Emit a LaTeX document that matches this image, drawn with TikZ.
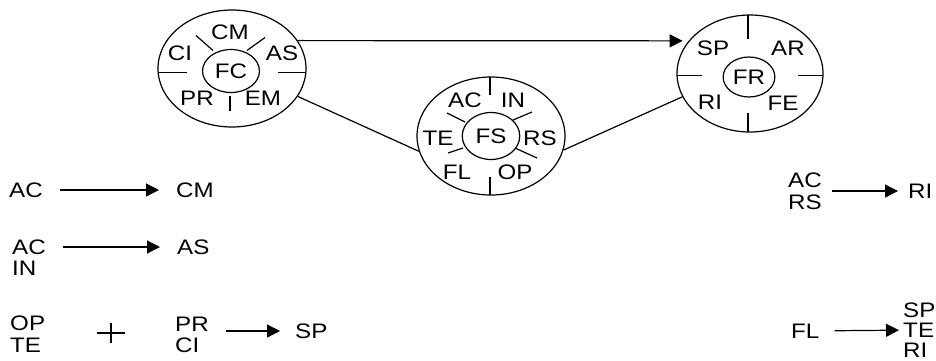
\documentclass[tikz,border=0pt]{standalone}
\usepackage{fontspec}
\setmainfont{Liberation Sans}
\usetikzlibrary{shapes.geometric}
\usetikzlibrary{arrows.meta}

\tikzset{
  word/.style = {font=\fontsize{21}{22}\selectfont, inner sep=0pt, xscale=1.15},
  ring/.style = {ellipse, draw, line width=1.2pt, inner sep=0pt},
  hub/.style  = {word, ellipse, draw, line width=1.2pt},
  link/.style = {line width=1.2pt},
  flow/.style = {link, -{Triangle[length=13pt, width=13pt]}, shorten <=17pt, shorten >=17pt}
}

\begin{document}
\begin{tikzpicture}[x=1pt, y=-1pt]
\useasboundingbox (0,0) rectangle (936,360);

% the three rings
\node[ring, minimum width=148pt, minimum height=117pt] (fc) at (232,68.5) {};
\node[ring, minimum width=148pt, minimum height=118pt] (fs) at (491,136) {};
\node[ring, minimum width=146pt, minimum height=117pt] (fr) at (750,73.5) {};

\node[hub, minimum width=49.5pt, minimum height=43pt] (fc-in) at (231,71) {FC};
\node[hub, minimum width=50pt, minimum height=47pt] (fs-in) at (491,136) {FS};
\node[hub, minimum width=45pt, minimum height=40pt] (fr-in) at (749,77) {FR};

% spokes
\foreach \x/\y/\u/\v in {-36/-33/-19/-18, 15/-18/33/-31, -74/4/-45/4, 46/4/74/4, -2/27/-2/42}
\draw[link, shift={(fc.center)}] (\x,\y) -- (\u,\v);
\foreach \x/\y/\u/\v in {-1/-59/-1/-41, -1/41/-1/59, -44/-23/-26/-14, 22/-16/41/-24, -43/17/-28/12, 24/12/46/22}
\draw[link, shift={(fs.center)}] (\x,\y) -- (\u,\v);
\foreach \x/\y/\u/\v in {-2/-58.5/-2/-35, -2/39/-2/58.5, -73/2/-48/2, 48/2/73/2}
\draw[link, shift={(fr.center)}] (\x,\y) -- (\u,\v);

% ring labels
\foreach \t/\x/\y in {CM/230/32, CI/180/53, AS/282/53, PR/197/98, EM/263/98}
\node[word] (fc-\t) at (\x,\y) {\t};
\foreach \t/\x/\y in {AC/465/100, IN/513/100, TE/438/138, RS/540/138, FL/457/172, OP/515/172}
\node[word] (fs-\t) at (\x,\y) {\t};
\foreach \t/\x/\y in {SP/713/48, AR/788/48, RI/710/102, FE/783/103}
\node[word] (fr-\t) at (\x,\y) {\t};

\draw[flow, shorten <=0pt, shorten >=6pt] (fc.23) -- (fr.152);
\draw[link] (fc.337) -- (fs.192);
\draw[link] (fs.349) -- (fr.199);

% rules
\node[word, anchor=west] (ac1) at (9,190) {AC};
\node[word, anchor=west] (cm1) at (176,190) {CM};
\node[word, anchor=west] (ac2) at (12,247) {AC};
\node[word, anchor=west] (in2) at (12,268) {IN};
\node[word, anchor=west] (as2) at (177,247) {AS};
\node[word, anchor=west] (op3) at (10,323) {OP};
\node[word, anchor=west] (te3) at (10,345) {TE};
\node[minimum width=28pt, minimum height=20pt, inner sep=0pt] (plus) at (111,333) {};
\node[word, anchor=west] (pr3) at (175,324) {PR};
\node[word, anchor=west] (ci3) at (175,345) {CI};
\node[word, anchor=west] (sp3) at (295,331) {SP};

\node[word, anchor=west] (ac4) at (788,180) {AC};
\node[word, anchor=west] (rs4) at (788,202) {RS};
\node[word, anchor=west] (ri4) at (908,191) {RI};
\node[word, anchor=west] (fl5) at (791,331) {FL};
\node[word, anchor=west] (sp5) at (903,310) {SP};
\node[word, anchor=west] (te5) at (903,330) {TE};
\node[word, anchor=west] (ri5) at (903,350) {RI};

\draw[flow] (ac1) -- (cm1);
\draw[flow] (ac2) -- (as2);
\draw[link] (plus.west) -- (plus.east) (plus.north) -- (plus.south);
\draw[flow, shorten >=15pt] (pr3.east |- sp3) -- (sp3);
\draw[flow, shorten <=10pt, shorten >=10pt] (ac4.east |- ri4) -- (ri4);
\draw[flow, shorten <=15pt, shorten >=4pt] (fl5) -- (te5);

\end{tikzpicture}
\end{document}
